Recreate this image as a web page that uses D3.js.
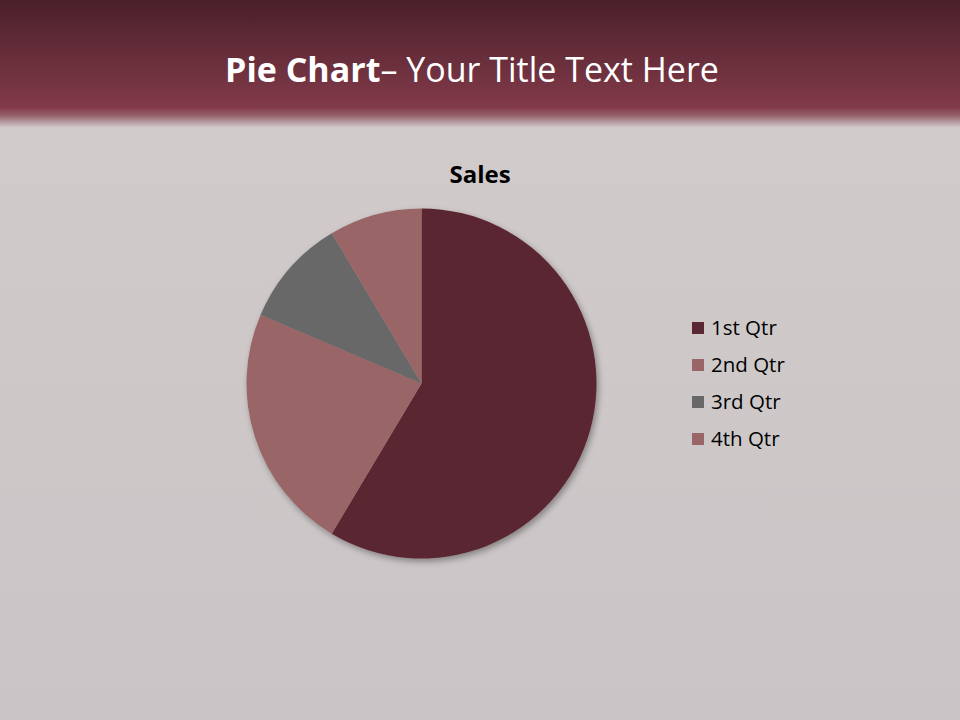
<!DOCTYPE html>
<html>
<head>
<meta charset="utf-8">
<script src="https://cdn.jsdelivr.net/npm/d3@7"></script>
<style>
  html, body { margin: 0; padding: 0; background: #cbc5c6; }
  svg { display: block; }
</style>
</head>
<body>
<svg id="chart" width="960" height="720"></svg>
<script>
// chart data
var categories = ['1st Qtr', '2nd Qtr', '3rd Qtr', '4th Qtr']
var sales = [8.2, 3.2, 1.4, 1.2]
var sliceColors = ['#5a2832', '#9a6566', '#686868', '#9a6566']

var svg = d3.select('#chart'),
  width = +svg.attr('width'),
  height = +svg.attr('height')

var defs = svg.append('defs')

// slide background
var bg = defs.append('linearGradient').attr('id', 'bg').attr('x1', 0).attr('y1', 0).attr('x2', 0).attr('y2', 1)
bg.append('stop').attr('offset', '0').attr('stop-color', '#d3cccd')
bg.append('stop').attr('offset', '1').attr('stop-color', '#c9c4c5')

// header band
var band = defs.append('linearGradient').attr('id', 'band').attr('x1', 0).attr('y1', 0).attr('x2', 0).attr('y2', 1)
band.append('stop').attr('offset', '0').attr('stop-color', '#4a2029')
band.append('stop').attr('offset', '0.84').attr('stop-color', '#823a4a')
band.append('stop').attr('offset', '0.9').attr('stop-color', '#94606a')
band.append('stop').attr('offset', '1').attr('stop-color', '#d3cccd')

var shadow = defs.append('filter').attr('id', 'shadow')
  .attr('x', '-20%').attr('y', '-20%').attr('width', '140%').attr('height', '140%')
shadow.append('feDropShadow')
  .attr('dx', 2).attr('dy', 3).attr('stdDeviation', 3)
  .attr('flood-color', '#000').attr('flood-opacity', 0.35)

svg.append('rect').attr('width', width).attr('height', height).attr('fill', 'url(#bg)')
svg.append('rect').attr('width', width).attr('height', 128).attr('fill', 'url(#band)')

// title
var title = svg.append('text')
  .attr('x', 472).attr('y', 82)
  .attr('text-anchor', 'middle')
  .attr('fill', '#ffffff')
  .style('font-family', 'Open Sans, sans-serif')
  .style('font-size', '34px')
title.append('tspan').style('font-weight', 'bold').text('Pie Chart')
title.append('tspan').text('– Your Title Text Here')

svg.append('text')
  .attr('x', 480).attr('y', 183)
  .attr('text-anchor', 'middle')
  .attr('fill', '#000')
  .style('font-family', 'Open Sans, sans-serif')
  .style('font-weight', 'bold')
  .style('font-size', '24px')
  .text('Sales')

// pie
var radius = 175
var pie = d3.pie().sort(null).value(function (d) { return d })
var arc = d3.arc().innerRadius(0).outerRadius(radius)

var g = svg.append('g')
  .attr('transform', 'translate(421.5,383.5)')
  .attr('filter', 'url(#shadow)')

g.selectAll('path')
  .data(pie(sales))
  .enter()
  .append('path')
  .attr('d', arc)
  .attr('fill', function (d, i) { return sliceColors[i] })

// legend
var legendY = d3.scalePoint().domain(categories).range([328, 439])

var legend = svg.append('g').selectAll('g')
  .data(categories)
  .enter()
  .append('g')
  .attr('transform', function (d) { return 'translate(692,' + legendY(d) + ')' })

legend.append('rect')
  .attr('x', 0).attr('y', -6)
  .attr('width', 12).attr('height', 12)
  .attr('fill', function (d, i) { return sliceColors[i] })

legend.append('text')
  .attr('x', 19).attr('y', 7)
  .attr('fill', '#000')
  .style('font-family', 'Open Sans, sans-serif')
  .style('font-size', '20.5px')
  .text(function (d) { return d })
</script>
</body>
</html>
